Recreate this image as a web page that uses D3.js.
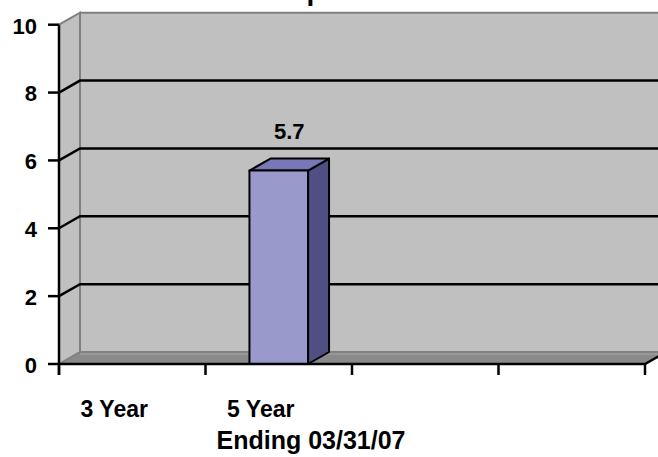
<!DOCTYPE html>
<html>
<head>
<meta charset="utf-8">
<script src="https://cdn.jsdelivr.net/npm/d3@7.9.0/dist/d3.min.js"></script>
<style>
  html, body { margin: 0; padding: 0; background: #fff; }
  svg { display: block; }
  text { font-family: Arial, "Liberation Sans", sans-serif; font-weight: bold; fill: #000; }
</style>
</head>
<body>
<svg id="chart" width="658" height="457"></svg>
<script>
// data
const categories = ['3 Year', '5 Year', '', ''];
const values = [null, 5.7, null, null];
const yTicks = [0, 2, 4, 6, 8, 10];
const titleText = 'p';
const xTitle = 'Ending 03/31/07';

const W = 658, H = 457;
const plotLeft = 59, plotRight = 645, plotBottom = 364, plotTop = 24.7;
const dx = 21, dy = -12; // depth offset of the 3d walls

const svg = d3.select('#chart');

const x = d3.scaleBand().domain(d3.range(categories.length)).range([plotLeft, plotRight]);
const y = d3.scaleLinear().domain([0, 10]).range([plotBottom, plotTop]);

const poly = (pts) => 'M' + pts.map((p) => p.join(',')).join('L') + 'Z';

// title, mostly clipped above the window
svg.append('text')
  .attr('x', 315).attr('y', 0)
  .attr('text-anchor', 'middle')
  .style('font-size', '28px')
  .text(titleText);

// back wall
svg.append('path')
  .attr('d', poly([[plotLeft + dx, y(10) + dy], [W + 40, y(10) + dy], [W + 40, y(0) + dy], [plotLeft + dx, y(0) + dy]]))
  .attr('fill', '#c0c0c0')
  .attr('stroke', '#808080')
  .attr('stroke-width', 2);

// side wall
svg.append('path')
  .attr('d', poly([[plotLeft, y(10)], [plotLeft + dx, y(10) + dy], [plotLeft + dx, y(0) + dy], [plotLeft, y(0)]]))
  .attr('fill', '#c0c0c0')
  .attr('stroke', '#808080')
  .attr('stroke-width', 2);

// floor
svg.append('path')
  .attr('d', poly([[plotLeft, y(0)], [plotRight, y(0)], [plotRight + dx, y(0) + dy], [plotLeft + dx, y(0) + dy]]))
  .attr('fill', '#8a8a8a')
  .attr('stroke', '#808080')
  .attr('stroke-width', 1.5);
svg.append('line')
  .attr('x1', plotLeft + dx).attr('x2', W)
  .attr('y1', y(0) + dy + 2).attr('y2', y(0) + dy + 2)
  .attr('stroke', '#9c9c9c').attr('stroke-width', 1.5);

// gridlines
svg.append('g')
  .selectAll('path')
  .data(yTicks.filter((t) => t > 0 && t < 10))
  .join('path')
  .attr('d', (t) => `M${plotLeft},${y(t)}L${plotLeft + dx},${y(t) + dy}L${W + 40},${y(t) + dy}`)
  .attr('fill', 'none')
  .attr('stroke', '#000')
  .attr('stroke-width', 2.5);

// bars
const bw = x.bandwidth() * 0.4;
const barG = svg.append('g').attr('stroke', '#000').attr('stroke-width', 2).attr('stroke-linejoin', 'round');
values.forEach((v, i) => {
  if (v == null) return;
  const x0 = x(i) + (x.bandwidth() - bw) / 2;
  const x1 = x0 + bw;
  const y0 = y(0), y1 = y(v);
  barG.append('path')
    .attr('d', poly([[x1, y1], [x1 + dx, y1 + dy], [x1 + dx, y0 + dy], [x1, y0]]))
    .attr('fill', '#4f4f83');
  barG.append('path')
    .attr('d', poly([[x0, y1], [x0 + dx, y1 + dy], [x1 + dx, y1 + dy], [x1, y1]]))
    .attr('fill', '#7878b8');
  barG.append('rect')
    .attr('x', x0).attr('y', y1)
    .attr('width', bw).attr('height', y0 - y1)
    .attr('fill', '#9999cc');
  svg.append('text')
    .attr('x', x0 + bw / 2 + dx / 2)
    .attr('y', y1 + dy - 20)
    .attr('text-anchor', 'middle')
    .style('font-size', '22px')
    .text(v);
});

// y axis
const yAxis = svg.append('g');
yAxis.append('line')
  .attr('x1', plotLeft).attr('x2', plotLeft)
  .attr('y1', y(10)).attr('y2', y(0) + 11)
  .attr('stroke', '#000').attr('stroke-width', 2.5);
yAxis.selectAll('line.tick')
  .data(yTicks)
  .join('line')
  .attr('class', 'tick')
  .attr('x1', plotLeft - 11).attr('x2', plotLeft)
  .attr('y1', (t) => y(t)).attr('y2', (t) => y(t))
  .attr('stroke', '#000').attr('stroke-width', 2.5);
yAxis.selectAll('text')
  .data(yTicks)
  .join('text')
  .attr('x', 37)
  .attr('y', (t) => y(t) + 3)
  .attr('text-anchor', 'end')
  .attr('dominant-baseline', 'middle')
  .style('font-size', '22px')
  .text((t) => t);

// x axis
const xAxis = svg.append('g');
xAxis.append('path')
  .attr('d', `M${plotLeft},${y(0)}L${plotRight},${y(0)}L${plotRight + dx},${y(0) + dy}`)
  .attr('fill', 'none')
  .attr('stroke', '#000').attr('stroke-width', 2.5);
xAxis.selectAll('line.tick')
  .data(d3.range(categories.length + 1))
  .join('line')
  .attr('class', 'tick')
  .attr('x1', (i) => plotLeft + i * x.step()).attr('x2', (i) => plotLeft + i * x.step())
  .attr('y1', y(0)).attr('y2', y(0) + 11)
  .attr('stroke', '#000').attr('stroke-width', 2.5);
xAxis.selectAll('text')
  .data(categories)
  .join('text')
  .attr('x', (d, i) => x(i) + x.bandwidth() / 2 - 18)
  .attr('y', 417)
  .attr('text-anchor', 'middle')
  .style('font-size', '23px')
  .text((d) => d);

svg.append('text')
  .attr('x', 311).attr('y', 449)
  .attr('text-anchor', 'middle')
  .style('font-size', '25px')
  .text(xTitle);
</script>
</body>
</html>
